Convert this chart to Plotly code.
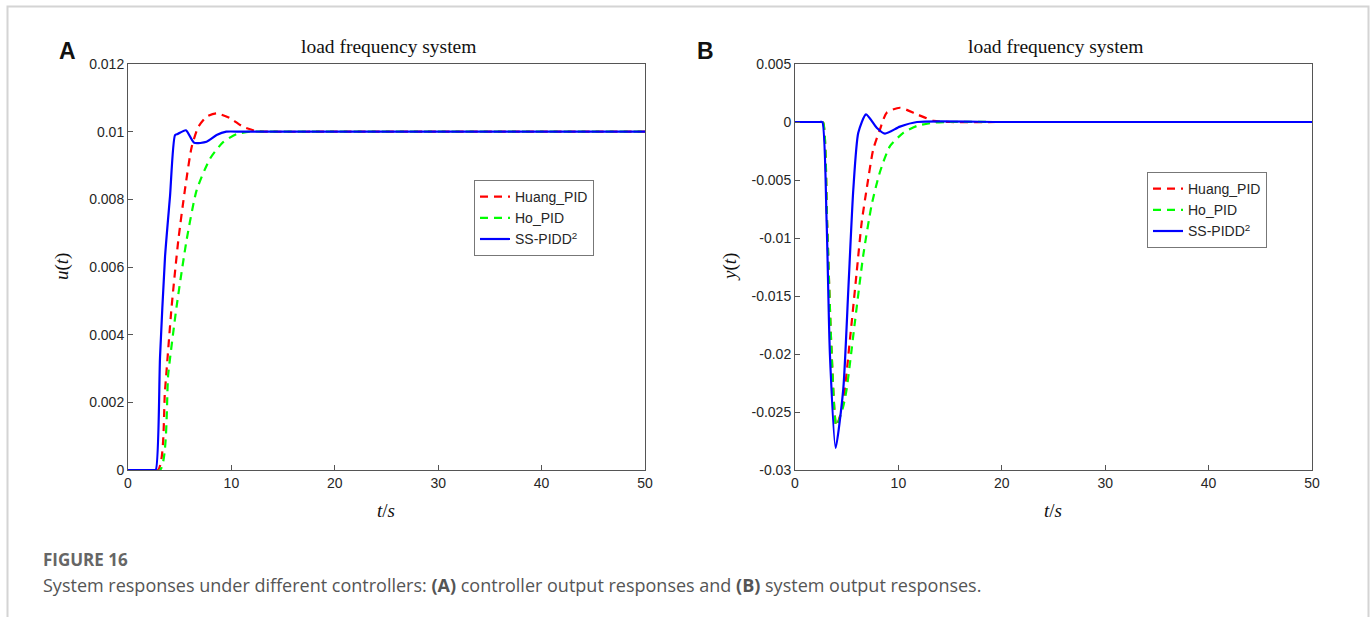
import plotly.graph_objects as go

# ---------------- data ----------------
# Panel A: controller output u(t)
tA_huang = [0, 2.9, 3.58, 4.22, 4.87, 5.5, 6.16, 6.8, 7.6, 8.57, 9.86, 11.15, 12.4, 14, 20, 30, 40, 50]
uA_huang = [0, 0, 0.00236, 0.00483, 0.0068, 0.00827, 0.00955, 0.01014, 0.01044, 0.01054, 0.0104, 0.01014, 0.01002, 0.01, 0.01, 0.01, 0.01, 0.01]

tA_ho = [0, 3.1, 3.9, 4.7, 5.67, 6.64, 7.93, 9.2, 10.5, 11.8, 14, 20, 30, 40, 50]
uA_ho = [0, 0, 0.00286, 0.00483, 0.0068, 0.00827, 0.0092, 0.00969, 0.00993, 0.01, 0.01, 0.01, 0.01, 0.01, 0.01]

tA_ss = [0, 2.4, 2.68, 3.1, 3.58, 4.06, 4.55, 4.8, 5.6, 6.4, 7.6, 8.57, 9.5, 11, 20, 30, 40, 50]
uA_ss = [0, 0, 0, 0.00335, 0.0063, 0.00808, 0.0099, 0.00993, 0.01004, 0.00967, 0.0097, 0.0099, 0.01, 0.01, 0.01, 0.01, 0.01, 0.01]

# Panel B: system output y(t)
tB_huang = [0, 2.4, 2.7, 3.1, 3.5, 4.0, 4.6, 5.32, 5.97, 6.45, 6.93, 7.57, 8.22, 8.87, 10.15, 11.8, 13.4, 15, 20, 30, 40, 50]
yB_huang = [0, 0, 0, -0.0085, -0.019, -0.0262, -0.0245, -0.0187, -0.0129, -0.00865, -0.00578, -0.00235, -0.00063, 0.0008, 0.00123, 0.00066, 0.0001, 0, 0, 0, 0, 0]

tB_ho = [0, 2.4, 2.7, 3.1, 3.5, 4.0, 4.67, 5.0, 5.8, 6.6, 7.4, 8.2, 9.2, 10.5, 11.8, 13.4, 15, 20, 30, 40, 50]
yB_ho = [0, 0, 0, -0.0085, -0.019, -0.0262, -0.0245, -0.023, -0.0172, -0.0115, -0.0072, -0.00435, -0.00206, -0.00092, -0.00034, -0.00006, 0, 0, 0, 0, 0]

tB_ss = [0, 2.4, 2.64, 3.06, 3.38, 3.93, 4.67, 5.16, 5.64, 6.12, 6.87, 7.9, 8.7, 10.15, 11.8, 20, 30, 40, 50]
yB_ss = [0, 0, 0, -0.00865, -0.0201, -0.0281, -0.023, -0.0144, -0.0058, -0.00092, 0.00066, -0.00049, -0.001, -0.0004, 0, 0, 0, 0, 0]

series_names = ["Huang_PID", "Ho_PID", "SS-PIDD<sup>2</sup>"]
series_colors = ["#FF0000", "#00FF00", "#0000FF"]
series_dash = ["8px,6px", "8px,6px", "solid"]

x_ticks = [0, 10, 20, 30, 40, 50]
yA_ticks = [0, 0.002, 0.004, 0.006, 0.008, 0.01, 0.012]
yA_ticktext = ["0", "0.002", "0.004", "0.006", "0.008", "0.01", "0.012"]
yB_ticks = [-0.03, -0.025, -0.02, -0.015, -0.01, -0.005, 0, 0.005]
yB_ticktext = ["-0.03", "-0.025", "-0.02", "-0.015", "-0.01", "-0.005", "0", "0.005"]

W, H = 1372, 617

fig = go.Figure()

dataA = [(tA_huang, uA_huang), (tA_ho, uA_ho), (tA_ss, uA_ss)]
dataB = [(tB_huang, yB_huang), (tB_ho, yB_ho), (tB_ss, yB_ss)]

for i, (t, v) in enumerate(dataA):
    fig.add_trace(go.Scatter(x=t, y=v, mode="lines", name=series_names[i],
                             line=dict(color=series_colors[i], dash=series_dash[i], width=2.2, shape="spline", smoothing=0.6),
                             xaxis="x", yaxis="y", legend="legend"))
for i, (t, v) in enumerate(dataB):
    fig.add_trace(go.Scatter(x=t, y=v, mode="lines", name=series_names[i],
                             line=dict(color=series_colors[i], dash=series_dash[i], width=2.2, shape="spline", smoothing=0.6),
                             xaxis="x2", yaxis="y2", legend="legend2"))


def px_x(p):
    return p / W


def px_y(p):
    return 1 - p / H


axcol = "#555555"
tickfont = dict(family="Liberation Sans", size=14, color="#262626")
common_x = dict(range=[0, 50], tickvals=x_ticks, ticks="inside", ticklen=5, tickcolor=axcol,
                showline=True, linecolor=axcol, linewidth=1, mirror=True, showgrid=False,
                zeroline=False, tickfont=tickfont, automargin=False)
common_y = dict(ticks="inside", ticklen=5, tickcolor=axcol, showline=True, linecolor=axcol,
                linewidth=1, mirror=True, showgrid=False, zeroline=False, tickfont=tickfont, automargin=False)

yd = [px_y(470), px_y(64)]
legfont = dict(family="Liberation Sans", size=14, color="#262626")
fig.update_layout(
    width=W, height=H,
    margin=dict(l=0, r=0, t=0, b=0, pad=0),
    paper_bgcolor="white", plot_bgcolor="white",
    xaxis=dict(domain=[px_x(128), px_x(645)], anchor="y", **common_x),
    yaxis=dict(domain=yd, anchor="x", range=[0, 0.012], tickvals=yA_ticks, ticktext=yA_ticktext, **common_y),
    xaxis2=dict(domain=[px_x(795), px_x(1312)], anchor="y2", **common_x),
    yaxis2=dict(domain=yd, anchor="x2", range=[-0.03, 0.005], tickvals=yB_ticks, ticktext=yB_ticktext, **common_y),
    legend=dict(x=px_x(474), y=px_y(180), xanchor="left", yanchor="top",
                bgcolor="white", bordercolor="#777777", borderwidth=1,
                font=legfont, tracegroupgap=0),
    legend2=dict(x=px_x(1147), y=px_y(172), xanchor="left", yanchor="top",
                 bgcolor="white", bordercolor="#777777", borderwidth=1,
                 font=legfont, tracegroupgap=0),
    showlegend=True,
)

serif = "Liberation Serif"
ann = []


def add_text(x, y, text, size, family, color="#111", angle=0, xanchor="center"):
    ann.append(dict(x=px_x(x), y=px_y(y), text=text, showarrow=False, xref="paper", yref="paper",
                    xanchor=xanchor, yanchor="middle", textangle=angle,
                    font=dict(family=family, size=size, color=color)))


# titles
add_text(388, 47, "load frequency system", 19.5, serif)
add_text(1055, 47, "load frequency system", 19.5, serif)
# panel letters
add_text(67, 51, "<b>A</b>", 23, "Liberation Sans")
add_text(705, 51, "<b>B</b>", 23, "Liberation Sans")
# axis labels
add_text(62, 267, "<i>u</i>(<i>t</i>)", 19, serif, angle=-90)
add_text(730, 267, "<i>y</i>(<i>t</i>)", 19, serif, angle=-90)
add_text(386, 510, "<i>t</i>/<i>s</i>", 19, serif)
add_text(1053, 510, "<i>t</i>/<i>s</i>", 19, serif)
# caption
add_text(41, 559, "<b>FIGURE 16</b>", 17, "Open Sans", color="#666", xanchor="left")
add_text(41, 585,
         "System responses under different controllers: <b>(A)</b> controller output responses and <b>(B)</b> system output responses.",
         18, "Open Sans", color="#555", xanchor="left")
fig.update_layout(annotations=ann)

# outer frame
fig.add_shape(type="rect", xref="paper", yref="paper", x0=px_x(7.5), x1=px_x(1368.5), y0=-0.05, y1=px_y(6.5),
              line=dict(color="#d4d4d4", width=2), layer="below")

fig.write_html("out.html",
               post_script="document.body.style.margin='0';document.body.style.padding='0';document.body.style.overflow='hidden';")
